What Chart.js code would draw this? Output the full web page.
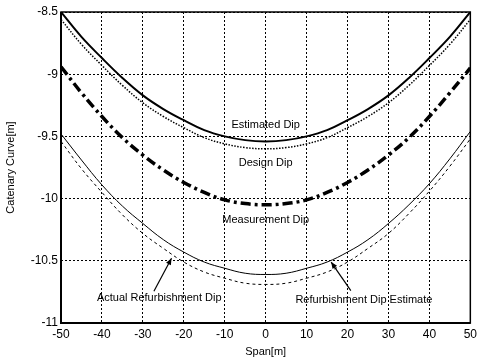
<!DOCTYPE html>
<html>
<head>
<meta charset="utf-8">
<script src="https://cdn.jsdelivr.net/npm/chart.js@4.4.0/dist/chart.umd.min.js"></script>
<style>
  html, body { margin: 0; padding: 0; background: #fff; }
  #wrap { width: 481px; height: 359px; }
</style>
</head>
<body>
<div id="wrap"><canvas id="dip-chart" width="481" height="359"></canvas></div>
<script>
// Span positions [m]
const span = [-50, -45, -40, -35, -30, -25, -20, -15, -10, -5, 0, 5, 10, 15, 20, 25, 30, 35, 40, 45, 50];

// Catenary curves [m]
const estimatedDip = [-8.50, -8.70, -8.87, -9.03, -9.17, -9.28, -9.37, -9.45, -9.50, -9.53, -9.54,
                      -9.53, -9.50, -9.45, -9.37, -9.28, -9.17, -9.03, -8.87, -8.70, -8.50];
const designDip = [-8.56, -8.76, -8.93, -9.09, -9.23, -9.34, -9.43, -9.51, -9.56, -9.59, -9.60,
                   -9.59, -9.56, -9.51, -9.43, -9.34, -9.23, -9.09, -8.93, -8.76, -8.56];
const measurementDip = [-8.94, -9.15, -9.34, -9.51, -9.65, -9.77, -9.87, -9.95, -10.01, -10.04, -10.05,
                        -10.04, -10.01, -9.95, -9.87, -9.77, -9.65, -9.51, -9.34, -9.15, -8.95];
const actualRefurbDip = [-9.48, -9.69, -9.89, -10.06, -10.20, -10.33, -10.43, -10.51, -10.56, -10.60, -10.61,
                         -10.60, -10.56, -10.51, -10.43, -10.33, -10.20, -10.05, -9.88, -9.68, -9.46];
const refurbDipEstimate = [-9.54, -9.76, -9.95, -10.13, -10.28, -10.40, -10.51, -10.59, -10.64, -10.68, -10.69,
                           -10.68, -10.64, -10.59, -10.51, -10.40, -10.28, -10.12, -9.94, -9.74, -9.52];

const xTicks = [-50, -40, -30, -20, -10, 0, 10, 20, 30, 40, 50];
const yTicks = [-8.5, -9, -9.5, -10, -10.5, -11];

// Text labels in data coordinates
const labels = [
    { text: 'Estimated Dip', x: 0, y: -9.41 },
    { text: 'Design Dip', x: 0, y: -9.71 },
    { text: 'Measurement Dip', x: 0, y: -10.17 },
    { text: 'Actual Refurbishment Dip', x: -26, y: -10.80 },
    { text: 'Refurbishment Dip Estimate', x: 24, y: -10.815 }
];
// Arrows: [fromX, fromY, toX, toY]
const arrows = [
    [-27.3, -10.745, -23.0, -10.48],
    [20.8, -10.74, 16.0, -10.51]
];

const pts = (ys) => span.map((x, i) => ({ x: x, y: ys[i] }));
const FONT = 'Liberation Sans, Arial, sans-serif';

const annotate = {
    id: 'annotate',
    afterDatasetsDraw(chart) {
        const ctx = chart.ctx;
        const xs = chart.scales.x, ys = chart.scales.y;
        ctx.save();
        ctx.fillStyle = '#000';
        ctx.strokeStyle = '#000';
        ctx.font = '11px ' + FONT;
        ctx.textAlign = 'center';
        ctx.textBaseline = 'middle';
        labels.forEach(l => {
            ctx.fillText(l.text, xs.getPixelForValue(l.x), ys.getPixelForValue(l.y));
        });
        arrows.forEach(a => {
            const x1 = xs.getPixelForValue(a[0]), y1 = ys.getPixelForValue(a[1]);
            const x2 = xs.getPixelForValue(a[2]), y2 = ys.getPixelForValue(a[3]);
            ctx.lineWidth = 1.2;
            ctx.beginPath();
            ctx.moveTo(x1, y1);
            ctx.lineTo(x2, y2);
            ctx.stroke();
            const ang = Math.atan2(y2 - y1, x2 - x1);
            ctx.beginPath();
            ctx.moveTo(x2, y2);
            ctx.lineTo(x2 - 7 * Math.cos(ang - 0.4), y2 - 7 * Math.sin(ang - 0.4));
            ctx.lineTo(x2 - 7 * Math.cos(ang + 0.4), y2 - 7 * Math.sin(ang + 0.4));
            ctx.closePath();
            ctx.fill();
        });
        // axes box
        const a = chart.chartArea;
        ctx.lineWidth = 1.5;
        ctx.strokeRect(a.left, a.top, a.right - a.left, a.bottom - a.top);
        ctx.lineWidth = 2;
        ctx.beginPath();
        ctx.moveTo(a.left, a.top);
        ctx.lineTo(a.left, a.bottom);
        ctx.lineTo(a.right, a.bottom);
        ctx.stroke();
        ctx.restore();
    }
};

const line = (data, width, dash) => ({
    data: pts(data),
    borderColor: '#000',
    borderWidth: width,
    borderDash: dash,
    pointRadius: 0,
    tension: 0.4,
    fill: false
});

new Chart(document.getElementById('dip-chart'), {
    type: 'line',
    data: {
        datasets: [
            line(estimatedDip, 2, []),
            line(designDip, 1.5, [1.5, 1.5]),
            line(measurementDip, 3.5, [10, 4, 3, 4]),
            line(actualRefurbDip, 1, []),
            line(refurbDipEstimate, 1, [3, 3])
        ]
    },
    options: {
        responsive: false,
        animation: false,
        events: [],
        layout: { padding: { top: 12, right: 8, left: 0, bottom: 0 } },
        plugins: { legend: { display: false }, tooltip: { enabled: false } },
        scales: {
            x: {
                type: 'linear',
                min: -50,
                max: 50,
                afterFit: (s) => { s.height = 36; },
                afterBuildTicks: (s) => { s.ticks = xTicks.map(v => ({ value: v })); },
                grid: { color: '#000', lineWidth: 1, drawTicks: false },
                border: { display: false, dash: [2, 2] },
                ticks: { color: '#000', font: { family: FONT, size: 12 }, padding: 4, maxRotation: 0,
                         callback: (v) => String(v) },
                title: { display: true, text: 'Span[m]', color: '#000', font: { family: FONT, size: 11 }, padding: { top: 0, bottom: 0 } }
            },
            y: {
                type: 'linear',
                min: -11,
                max: -8.5,
                afterFit: (s) => { s.width = 61; },
                afterBuildTicks: (s) => { s.ticks = yTicks.map(v => ({ value: v })); },
                grid: { color: '#000', lineWidth: 1, drawTicks: false },
                border: { display: false, dash: [2, 2] },
                ticks: { color: '#000', font: { family: FONT, size: 12 }, padding: 3,
                         callback: (v) => String(v) },
                title: { display: true, text: 'Catenary Curve[m]', color: '#000', font: { family: FONT, size: 11 }, padding: { top: 4, bottom: 0 } }
            }
        }
    },
    plugins: [annotate]
});
</script>
</body>
</html>
